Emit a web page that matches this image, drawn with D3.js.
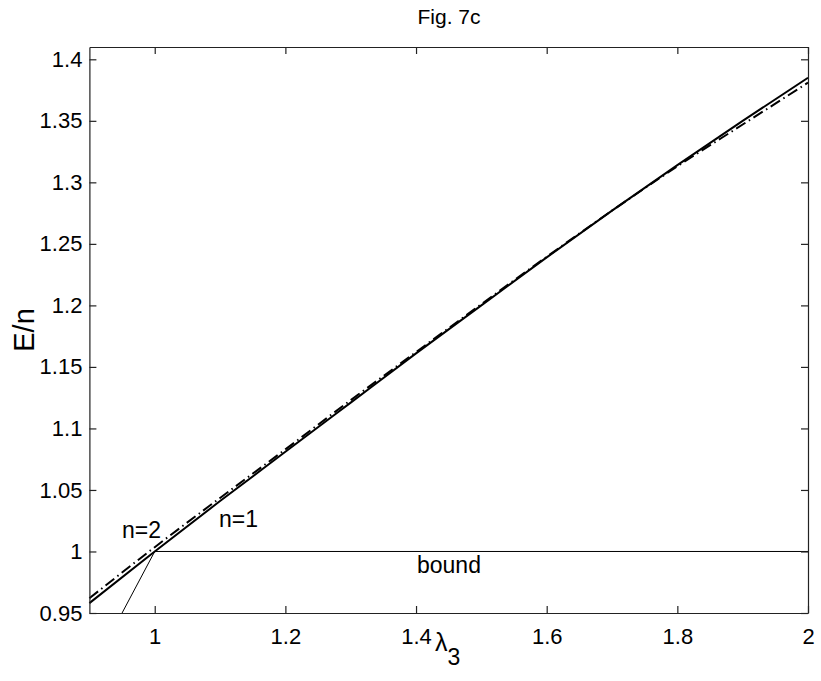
<!DOCTYPE html>
<html>
<head>
<meta charset="utf-8">
<script src="https://cdn.jsdelivr.net/npm/d3@7"></script>
<style>
  body { margin: 0; background: #fff; }
  text { font-family: "Liberation Sans", Arial, Helvetica, sans-serif; fill: #000; }
</style>
</head>
<body>
<div id="chart"></div>
<script>
//Width and height
var w = 821;
var h = 681;

//Data
var lambda = [0.9, 1.0, 1.1, 1.2, 1.3, 1.4, 1.5, 1.6, 1.7, 1.8, 1.9, 2.0];
var energyN1 = [0.958, 1.000, 1.041, 1.081, 1.121, 1.161, 1.200, 1.239, 1.277, 1.314, 1.350, 1.385];
var energyN2 = [0.962, 1.0035, 1.0435, 1.083, 1.123, 1.162, 1.201, 1.2395, 1.277, 1.313, 1.347, 1.381];
var boundX = [0.95, 1.0, 2.0];
var boundY = [0.95, 1.0, 1.0];
var xTicks = [1, 1.2, 1.4, 1.6, 1.8, 2];
var yTicks = [0.95, 1, 1.05, 1.1, 1.15, 1.2, 1.25, 1.3, 1.35, 1.4];

//Create scale functions
var xScale = d3.scaleLinear()
                .domain([0.9, 2])
                .range([89.4, 808]);

var yScale = d3.scaleLinear()
                .domain([0.95, 1.41])
                .range([613, 47]);

//Create SVG element
var svg = d3.select("#chart")
            .append("svg")
            .attr("width", w)
            .attr("height", h);

var line = d3.line()
    .x(function(d) { return xScale(d[0]); })
    .y(function(d) { return yScale(d[1]); });

//Bound line
svg.append("path")
   .datum(d3.zip(boundX, boundY))
   .attr("d", line)
   .attr("fill", "none")
   .attr("stroke", "#000")
   .attr("stroke-width", 1);

//n=2 dash-dot
svg.append("path")
   .datum(d3.zip(lambda, energyN2))
   .attr("d", line.curve(d3.curveMonotoneX))
   .attr("fill", "none")
   .attr("stroke", "#000")
   .attr("stroke-width", 2)
   .attr("stroke-dasharray", "11,4,1.5,4");

//n=1 solid
svg.append("path")
   .datum(d3.zip(lambda, energyN1))
   .attr("d", line.curve(d3.curveMonotoneX))
   .attr("fill", "none")
   .attr("stroke", "#000")
   .attr("stroke-width", 2);

//Axes (box with inner ticks)
var fmt = function(d) { return String(d); };
svg.append("g")
    .attr("class", "x axis")
    .attr("transform", "translate(0," + yScale(0.95) + ")")
    .call(d3.axisBottom(xScale).tickValues(xTicks).tickFormat(fmt).tickSizeInner(-7).tickSizeOuter(0).tickPadding(15));
svg.append("g")
    .attr("transform", "translate(0," + yScale(1.41) + ")")
    .call(d3.axisTop(xScale).tickValues(xTicks).tickFormat("").tickSizeInner(-7).tickSizeOuter(0));
svg.append("g")
    .attr("class", "y axis")
    .attr("transform", "translate(" + xScale(0.9) + ",0)")
    .call(d3.axisLeft(yScale).tickValues(yTicks).tickFormat(fmt).tickSizeInner(-7).tickSizeOuter(0).tickPadding(7));
svg.append("g")
    .attr("transform", "translate(" + xScale(2) + ",0)")
    .call(d3.axisRight(yScale).tickValues(yTicks).tickFormat("").tickSizeInner(-7).tickSizeOuter(0));

svg.selectAll(".domain, .tick line")
   .attr("stroke", "#222")
   .attr("stroke-width", 1.2);
svg.selectAll(".tick text")
   .attr("font-size", "22px")
   .attr("font-family", "'Liberation Sans', Arial, sans-serif")
   .attr("fill", "#000");

//Title
svg.append("text")
   .attr("x", 449)
   .attr("y", 24)
   .attr("text-anchor", "middle")
   .attr("font-size", "21px")
   .text("Fig. 7c");

//Axis labels
svg.append("text")
   .attr("transform", "translate(34,330) rotate(-90)")
   .attr("text-anchor", "middle")
   .attr("font-size", "29px")
   .text("E/n");

var xl = svg.append("text")
   .attr("x", 435)
   .attr("y", 651)
   .attr("font-size", "25px");
xl.append("tspan").text("λ");
xl.append("tspan").attr("dy", 14).attr("font-size", "23px").text("3");

//Curve labels
svg.append("text").attr("x", 122).attr("y", 538).attr("font-size", "23px").text("n=2");
svg.append("text").attr("x", 219).attr("y", 527).attr("font-size", "23px").text("n=1");
svg.append("text").attr("x", 417).attr("y", 573).attr("font-size", "23px").text("bound");
</script>
</body>
</html>
